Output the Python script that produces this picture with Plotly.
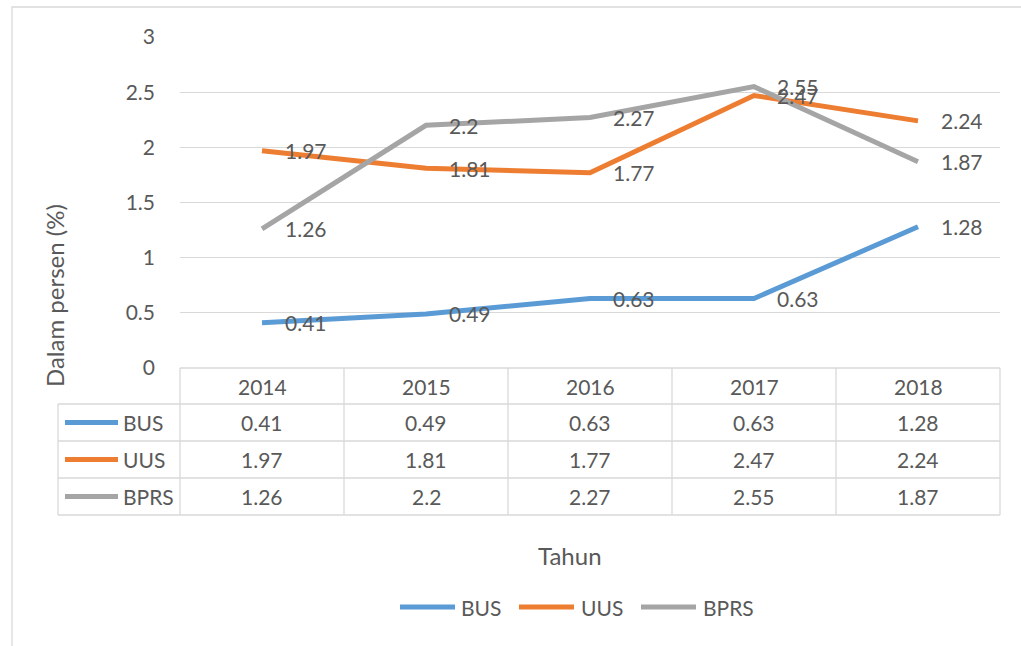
import plotly.graph_objects as go

years = ["2014", "2015", "2016", "2017", "2018"]
series_names = ["BUS", "UUS", "BPRS"]
bus = [0.41, 0.49, 0.63, 0.63, 1.28]
uus = [1.97, 1.81, 1.77, 2.47, 2.24]
bprs = [1.26, 2.2, 2.27, 2.55, 1.87]
colors = ["#5B9BD5", "#ED7D31", "#A5A5A5"]
values = [bus, uus, bprs]

W, H = 1021, 646
L, R, T, B = 180, 1000, 37, 368
TXT = "#595959"
GRID = "#D9D9D9"
FONT = "Lato"
FS = 21
LW = 5


def px(x):
    return (x - L) / (R - L)


def py(y):
    return (B - y) / (B - T)


fig = go.Figure()
for name, vals, col in zip(series_names, values, colors):
    fig.add_trace(go.Scatter(x=years, y=vals, mode="lines", name=name,
                             line=dict(color=col, width=LW), showlegend=False,
                             hoverinfo="skip"))

annotations = []
shapes = []

# data labels (category index positions)
for vals in values:
    for i, v in enumerate(vals):
        annotations.append(dict(x=i, y=v, xref="x", yref="y", text=str(v), showarrow=False,
                                xanchor="left", yanchor="middle", xshift=21,
                                font=dict(family=FONT, size=FS, color=TXT)))

# data table
row_edges = [368, 404, 441, 478, 515]
col_edges = [180, 344, 508, 672, 836, 1000]
line = dict(color=GRID, width=1.3)
for i, ry in enumerate(row_edges):
    x0 = 180 if i == 0 else 58
    shapes.append(dict(type="line", xref="paper", yref="paper", x0=px(x0), x1=px(1000),
                       y0=py(ry), y1=py(ry), line=line))
for cx in col_edges:
    shapes.append(dict(type="line", xref="paper", yref="paper", x0=px(cx), x1=px(cx),
                       y0=py(368), y1=py(515), line=line))
shapes.append(dict(type="line", xref="paper", yref="paper", x0=px(58), x1=px(58),
                   y0=py(404), y1=py(515), line=line))

for i, yr in enumerate(years):
    annotations.append(dict(x=i, y=py(386), xref="x", yref="paper", text=yr, showarrow=False,
                            xanchor="center", yanchor="middle",
                            font=dict(family=FONT, size=FS, color=TXT)))
for r, (name, vals, col) in enumerate(zip(series_names, values, colors)):
    cy = (row_edges[r + 1] + row_edges[r + 2]) / 2
    shapes.append(dict(type="line", xref="paper", yref="paper", x0=px(65), x1=px(118),
                       y0=py(cy), y1=py(cy), line=dict(color=col, width=LW)))
    annotations.append(dict(x=px(121), y=py(cy), xref="paper", yref="paper", text=name,
                            showarrow=False, xanchor="left", yanchor="middle",
                            font=dict(family=FONT, size=FS, color=TXT)))
    for i, v in enumerate(vals):
        annotations.append(dict(x=i, y=py(cy), xref="x", yref="paper", text=str(v),
                                showarrow=False, xanchor="center", yanchor="middle",
                                font=dict(family=FONT, size=FS, color=TXT)))

# axis titles
annotations.append(dict(x=px(570), y=py(555), xref="paper", yref="paper", text="Tahun",
                        showarrow=False, xanchor="center", yanchor="middle",
                        font=dict(family=FONT, size=24, color=TXT)))
annotations.append(dict(x=px(54), y=py(296), xref="paper", yref="paper", text="Dalam persen (%)",
                        showarrow=False, xanchor="center", yanchor="middle", textangle=-90,
                        font=dict(family=FONT, size=24, color=TXT)))

# legend (bottom)
leg_items = [(400, 459), (519, 579), (641, 701)]
for (lx, tx), name, col in zip(leg_items, series_names, colors):
    shapes.append(dict(type="line", xref="paper", yref="paper", x0=px(lx), x1=px(lx + 55),
                       y0=py(607), y1=py(607), line=dict(color=col, width=LW)))
    annotations.append(dict(x=px(tx), y=py(607), xref="paper", yref="paper", text=name,
                            showarrow=False, xanchor="left", yanchor="middle",
                            font=dict(family=FONT, size=FS, color=TXT)))

# chart border
shapes.append(dict(type="rect", xref="paper", yref="paper", x0=px(12), x1=px(1040),
                   y0=py(680), y1=py(7), line=dict(color=GRID, width=1.3), layer="below"))

fig.update_layout(
    width=W, height=H, autosize=False,
    margin=dict(l=L, r=W - R, t=T, b=H - B),
    paper_bgcolor="white", plot_bgcolor="white",
    showlegend=False,
    xaxis=dict(type="category", range=[-0.5, 4.5], showticklabels=False, showgrid=False,
               zeroline=False, showline=False),
    yaxis=dict(range=[0, 3], dtick=0.5, showgrid=True, gridcolor=GRID, gridwidth=1.3,
               zeroline=False, showline=False, ticks="", ticklabelstandoff=24,
               tickfont=dict(family=FONT, size=FS, color=TXT)),
    annotations=annotations, shapes=shapes,
)

fig.write_html("out.html", config={"displayModeBar": False},
               post_script="document.body.style.margin='0';document.body.style.overflow='hidden';")
